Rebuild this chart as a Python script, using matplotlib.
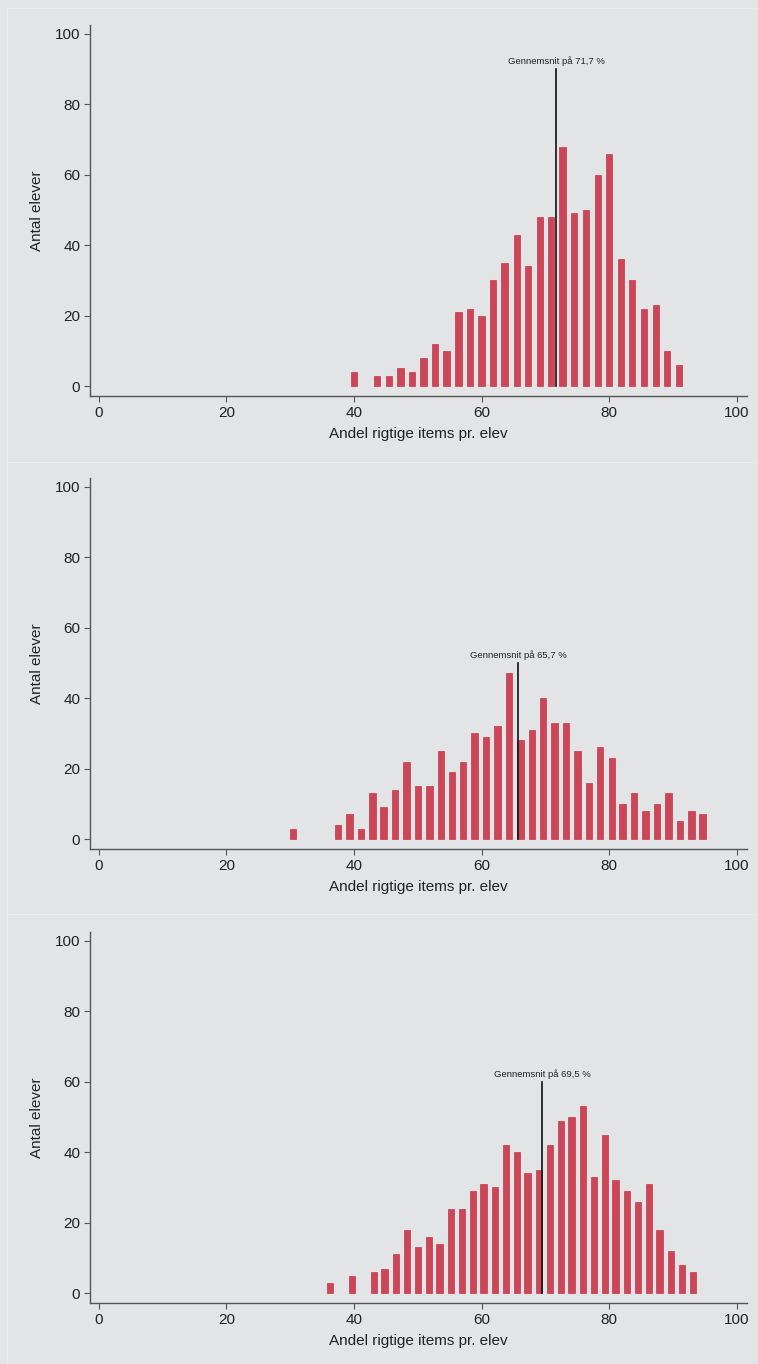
import matplotlib.pyplot as plt
from matplotlib.lines import Line2D

plt.rcParams['font.family'] = ['Liberation Sans', 'DejaVu Sans']

# Andel rigtige items pr. elev (%) og antal elever, tre test
x1 = [40.0, 43.6, 45.5, 47.3, 49.1, 50.9, 52.7, 54.5, 56.4, 58.2, 60.0, 61.8, 63.6, 65.5,
      67.3, 69.1, 70.9, 72.7, 74.5, 76.4, 78.2, 80.0, 81.8, 83.6, 85.5, 87.3, 89.1, 90.9]
y1 = [4, 3, 3, 5, 4, 8, 12, 10, 21, 22, 20, 30, 35, 43,
      34, 48, 48, 68, 49, 50, 60, 66, 36, 30, 22, 23, 10, 6]
mean1 = 71.7
top1 = 90

x2 = [30.4, 37.5, 39.3, 41.1, 42.9, 44.6, 46.4, 48.2, 50.0, 51.8, 53.6, 55.4, 57.1, 58.9,
      60.7, 62.5, 64.3, 66.1, 67.9, 69.6, 71.4, 73.2, 75.0, 76.8, 78.6, 80.4, 82.1, 83.9,
      85.7, 87.5, 89.3, 91.1, 92.9, 94.6]
y2 = [3, 4, 7, 3, 13, 9, 14, 22, 15, 15, 25, 19, 22, 30,
      29, 32, 47, 28, 31, 40, 33, 33, 25, 16, 26, 23, 10, 13,
      8, 10, 13, 5, 8, 7]
mean2 = 65.7
top2 = 50

x3 = [36.2, 39.7, 43.1, 44.8, 46.6, 48.3, 50.0, 51.7, 53.4, 55.2, 56.9, 58.6, 60.3, 62.1,
      63.8, 65.5, 67.2, 69.0, 70.7, 72.4, 74.1, 75.9, 77.6, 79.3, 81.0, 82.8, 84.5, 86.2,
      87.9, 89.7, 91.4, 93.1]
y3 = [3, 5, 6, 7, 11, 18, 13, 16, 14, 24, 24, 29, 31, 30,
      42, 40, 34, 35, 42, 49, 50, 53, 33, 45, 32, 29, 26, 31,
      18, 12, 8, 6]
mean3 = 69.5
top3 = 60

ticks = [0, 20, 40, 60, 80, 100]

bg = '#e3e4e6'
bar_face = '#cb4657'
bar_edge = '#c8364a'
txt = '#222222'

fig = plt.figure(figsize=(7.58, 13.64), dpi=100, facecolor=bg)

bottoms = [0.7097, 0.3776, 0.0447]
panels = [(x1, y1, mean1, top1), (x2, y2, mean2, top2), (x3, y3, mean3, top3)]

for b, (xs, ys, m, top) in zip(bottoms, panels):
    ax = fig.add_axes([0.1187, b, 0.8668, 0.272])
    ax.set_facecolor(bg)
    ax.bar(xs, ys, width=1.0, color=bar_face, edgecolor=bar_edge, linewidth=0.5, zorder=2)
    ax.plot([m, m], [0, top], color='#111111', lw=1.2, zorder=3)
    ax.annotate('Gennemsnit på ' + f'{m:.1f}'.replace('.', ',') + ' %',
                xy=(m, top), xytext=(0, 2), textcoords='offset points',
                ha='center', va='bottom', fontsize=6.8, color=txt)
    ax.set_xlim(-1.4, 101.6)
    ax.set_ylim(-2.8, 102.5)
    ax.set_xticks(ticks)
    ax.set_yticks(ticks)
    for s in ['top', 'right']:
        ax.spines[s].set_visible(False)
    for s in ['left', 'bottom']:
        ax.spines[s].set_color('#555555')
        ax.spines[s].set_linewidth(1.0)
    ax.tick_params(length=4, width=0.8, color='#555555', labelsize=11,
                   labelcolor=txt, pad=3)
    ax.set_xlabel('Andel rigtige items pr. elev', fontsize=11, color=txt, labelpad=5)
    ax.set_ylabel('Antal elever', fontsize=11, color=txt, labelpad=8)

# faint panel borders
for yy in [1 - 8 / 1364, 1 - 462 / 1364, 1 - 914 / 1364]:
    fig.add_artist(Line2D([7 / 758, 1], [yy, yy], color='#ececee', lw=0.8))
fig.add_artist(Line2D([7 / 758, 7 / 758], [0, 1 - 8 / 1364], color='#ececee', lw=0.8))

fig.savefig('out.png', dpi=100, facecolor=bg)
